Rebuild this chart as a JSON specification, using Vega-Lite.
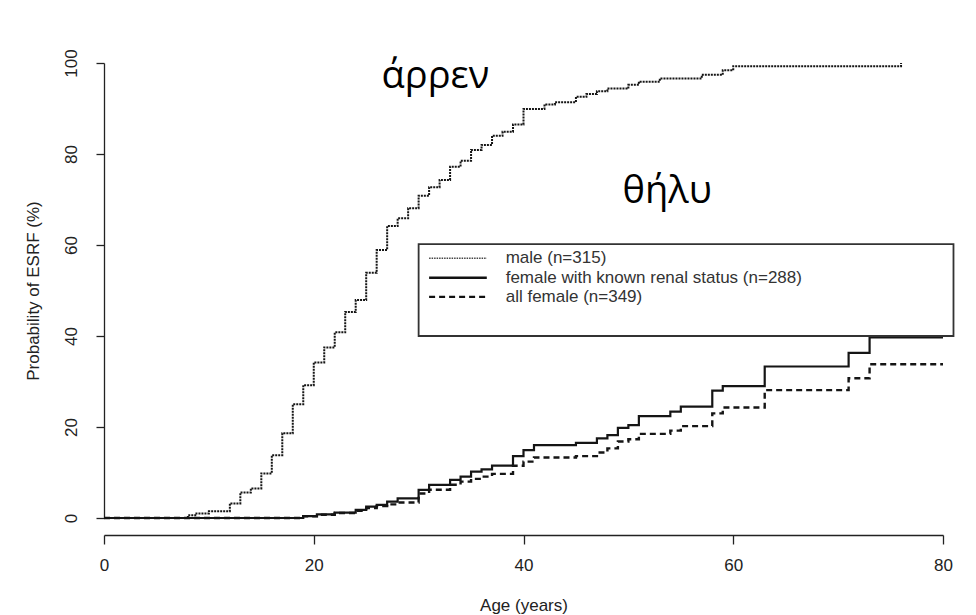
{
  "$schema": "https://vega.github.io/schema/vega-lite/v6.json",
  "width": 839,
  "height": 455,
  "autosize": {"type": "none"},
  "padding": {"left": 104, "top": 63, "right": 33, "bottom": 97},
  "background": "white",
  "config": {"view": {"stroke": null}, "font": "Liberation Sans"},
  "datasets": {
    "km": [
      {"series": "male", "age": 0, "prob": 0},
      {"series": "male", "age": 8, "prob": 0.6},
      {"series": "male", "age": 8.7, "prob": 1.0},
      {"series": "male", "age": 10, "prob": 1.5},
      {"series": "male", "age": 12, "prob": 3.2},
      {"series": "male", "age": 13, "prob": 5.6},
      {"series": "male", "age": 14, "prob": 6.5},
      {"series": "male", "age": 15, "prob": 9.8},
      {"series": "male", "age": 16, "prob": 13.8},
      {"series": "male", "age": 17, "prob": 18.6},
      {"series": "male", "age": 18, "prob": 25},
      {"series": "male", "age": 19, "prob": 29.2},
      {"series": "male", "age": 20, "prob": 34.2},
      {"series": "male", "age": 21, "prob": 37.5},
      {"series": "male", "age": 22, "prob": 40.8},
      {"series": "male", "age": 23, "prob": 45.3},
      {"series": "male", "age": 24, "prob": 47.9},
      {"series": "male", "age": 25, "prob": 53.9},
      {"series": "male", "age": 26, "prob": 58.9},
      {"series": "male", "age": 27, "prob": 64.2},
      {"series": "male", "age": 28, "prob": 65.9},
      {"series": "male", "age": 29, "prob": 68.1},
      {"series": "male", "age": 30, "prob": 70.8},
      {"series": "male", "age": 31, "prob": 72.7},
      {"series": "male", "age": 32, "prob": 74.3},
      {"series": "male", "age": 33, "prob": 77.2},
      {"series": "male", "age": 34, "prob": 78.5},
      {"series": "male", "age": 35, "prob": 80.9},
      {"series": "male", "age": 36, "prob": 82},
      {"series": "male", "age": 37, "prob": 84},
      {"series": "male", "age": 38, "prob": 84.9},
      {"series": "male", "age": 39, "prob": 86.5},
      {"series": "male", "age": 40, "prob": 89.9},
      {"series": "male", "age": 42, "prob": 90.9},
      {"series": "male", "age": 43, "prob": 91.4},
      {"series": "male", "age": 45, "prob": 92.6},
      {"series": "male", "age": 46, "prob": 93.2},
      {"series": "male", "age": 47, "prob": 93.8},
      {"series": "male", "age": 48, "prob": 94.4},
      {"series": "male", "age": 50, "prob": 95.2},
      {"series": "male", "age": 51, "prob": 95.9},
      {"series": "male", "age": 53, "prob": 96.6},
      {"series": "male", "age": 57, "prob": 97.4},
      {"series": "male", "age": 59, "prob": 98.4},
      {"series": "male", "age": 60, "prob": 99.3},
      {"series": "male", "age": 76, "prob": 100},
      {"series": "female_known", "age": 0, "prob": 0},
      {"series": "female_known", "age": 19, "prob": 0.4},
      {"series": "female_known", "age": 20.3, "prob": 0.8},
      {"series": "female_known", "age": 22, "prob": 1.2},
      {"series": "female_known", "age": 24, "prob": 1.8},
      {"series": "female_known", "age": 25, "prob": 2.5},
      {"series": "female_known", "age": 26, "prob": 2.9},
      {"series": "female_known", "age": 27, "prob": 3.6},
      {"series": "female_known", "age": 28, "prob": 4.3},
      {"series": "female_known", "age": 30, "prob": 6.2},
      {"series": "female_known", "age": 31, "prob": 7.3},
      {"series": "female_known", "age": 33, "prob": 8.4},
      {"series": "female_known", "age": 34, "prob": 9.1},
      {"series": "female_known", "age": 35, "prob": 10.2},
      {"series": "female_known", "age": 36, "prob": 10.7},
      {"series": "female_known", "age": 37, "prob": 11.5},
      {"series": "female_known", "age": 39, "prob": 13.6},
      {"series": "female_known", "age": 40, "prob": 14.9},
      {"series": "female_known", "age": 41, "prob": 16.0},
      {"series": "female_known", "age": 45, "prob": 16.5},
      {"series": "female_known", "age": 47, "prob": 17.5},
      {"series": "female_known", "age": 48, "prob": 18.2},
      {"series": "female_known", "age": 49, "prob": 19.8},
      {"series": "female_known", "age": 50, "prob": 20.4},
      {"series": "female_known", "age": 51, "prob": 22.4},
      {"series": "female_known", "age": 54, "prob": 23.4},
      {"series": "female_known", "age": 55, "prob": 24.5},
      {"series": "female_known", "age": 58, "prob": 28.0},
      {"series": "female_known", "age": 59, "prob": 29.0},
      {"series": "female_known", "age": 63, "prob": 33.3},
      {"series": "female_known", "age": 71, "prob": 36.3},
      {"series": "female_known", "age": 73, "prob": 39.7},
      {"series": "female_known", "age": 80, "prob": 39.7},
      {"series": "female_all", "age": 0, "prob": 0},
      {"series": "female_all", "age": 19, "prob": 0.4},
      {"series": "female_all", "age": 20.3, "prob": 0.7},
      {"series": "female_all", "age": 22, "prob": 1.1},
      {"series": "female_all", "age": 24, "prob": 1.6},
      {"series": "female_all", "age": 25, "prob": 2.2},
      {"series": "female_all", "age": 26, "prob": 2.6},
      {"series": "female_all", "age": 27, "prob": 3.0},
      {"series": "female_all", "age": 28, "prob": 3.4},
      {"series": "female_all", "age": 30, "prob": 5.4},
      {"series": "female_all", "age": 31, "prob": 6.2},
      {"series": "female_all", "age": 33, "prob": 7.3},
      {"series": "female_all", "age": 34, "prob": 8.0},
      {"series": "female_all", "age": 35, "prob": 8.6},
      {"series": "female_all", "age": 36, "prob": 9.1},
      {"series": "female_all", "age": 37, "prob": 9.7},
      {"series": "female_all", "age": 39, "prob": 11.5},
      {"series": "female_all", "age": 40, "prob": 12.4},
      {"series": "female_all", "age": 41, "prob": 13.3},
      {"series": "female_all", "age": 45, "prob": 13.6},
      {"series": "female_all", "age": 47, "prob": 14.4},
      {"series": "female_all", "age": 48, "prob": 15.3},
      {"series": "female_all", "age": 49, "prob": 16.8},
      {"series": "female_all", "age": 50, "prob": 17.3},
      {"series": "female_all", "age": 51, "prob": 18.5},
      {"series": "female_all", "age": 54, "prob": 19.2},
      {"series": "female_all", "age": 55, "prob": 20.2},
      {"series": "female_all", "age": 58, "prob": 23.0},
      {"series": "female_all", "age": 59, "prob": 24.3},
      {"series": "female_all", "age": 63, "prob": 28.1},
      {"series": "female_all", "age": 71, "prob": 30.7},
      {"series": "female_all", "age": 73, "prob": 33.8},
      {"series": "female_all", "age": 80, "prob": 33.8}
    ]
  },
  "layer": [
    {
      "data": {"name": "km"},
      "mark": {"type": "line", "interpolate": "step-after", "color": "#151515"},
      "encoding": {
        "x": {
          "field": "age", "type": "quantitative",
          "scale": {"domain": [0, 80], "nice": false, "zero": false},
          "axis": {
            "values": [0, 20, 40, 60, 80], "title": "Age (years)", "offset": 17,
            "grid": false, "tickSize": 9, "labelPadding": 13, "titlePadding": 24,
            "labelFontSize": 17, "titleFontSize": 17, "titleFontWeight": "normal",
            "labelColor": "#222", "titleColor": "#222", "domainColor": "#222", "tickColor": "#222",
            "domainWidth": 1.3, "tickWidth": 1.3, "labelFlush": false
          }
        },
        "y": {
          "field": "prob", "type": "quantitative",
          "scale": {"domain": [0, 100], "nice": false},
          "axis": {
            "values": [0, 20, 40, 60, 80, 100], "title": "Probability of ESRF (%)",
            "grid": false, "tickSize": 8, "labelAngle": -90, "labelAlign": "center", "labelBaseline": "bottom",
            "labelPadding": 16, "titlePadding": 20,
            "labelFontSize": 17, "titleFontSize": 17, "titleFontWeight": "normal",
            "labelColor": "#222", "titleColor": "#222", "domainColor": "#222", "tickColor": "#222",
            "domainWidth": 1.3, "tickWidth": 1.3, "labelFlush": false
          }
        },
        "strokeDash": {
          "field": "series", "type": "nominal",
          "scale": {"domain": ["male", "female_known", "female_all"], "range": [[2, 1], [1, 0], [6, 4]]},
          "legend": null
        },
        "strokeWidth": {
          "field": "series", "type": "ordinal",
          "scale": {"domain": ["male", "female_known", "female_all"], "range": [2, 2.4, 2.2]},
          "legend": null
        }
      }
    },
    {
      "data": {"values": [{"box": "legend"}]},
      "mark": {"type": "rect", "fill": "white", "stroke": "#333", "strokeWidth": 1.8},
      "encoding": {
        "x": {"datum": 30}, "x2": {"datum": 81},
        "y": {"datum": 40}, "y2": {"datum": 60.2}
      }
    },
    {
      "data": {"values": [{"entry": "male"}]},
      "mark": {"type": "rule", "color": "#444", "strokeWidth": 1.5, "strokeDash": [1.5, 1]},
      "encoding": {"x": {"datum": 31}, "x2": {"datum": 36.5}, "y": {"datum": 57.1}}
    },
    {
      "data": {"values": [{"entry": "female_known"}]},
      "mark": {"type": "rule", "color": "#111", "strokeWidth": 2.6},
      "encoding": {"x": {"datum": 31}, "x2": {"datum": 36.5}, "y": {"datum": 52.8}}
    },
    {
      "data": {"values": [{"entry": "female_all"}]},
      "mark": {"type": "rule", "color": "#111", "strokeWidth": 2.1, "strokeDash": [6, 4]},
      "encoding": {"x": {"datum": 31}, "x2": {"datum": 36.5}, "y": {"datum": 48.6}}
    },
    {
      "data": {"values": [{"entry": "male"}]},
      "mark": {"type": "text", "text": "male (n=315)", "align": "left", "baseline": "middle", "fontSize": 17, "color": "#333", "font": "Liberation Sans"},
      "encoding": {"x": {"datum": 38.3}, "y": {"datum": 57.1}}
    },
    {
      "data": {"values": [{"entry": "female_known"}]},
      "mark": {"type": "text", "text": "female with known renal status (n=288)", "align": "left", "baseline": "middle", "fontSize": 17, "color": "#333", "font": "Liberation Sans"},
      "encoding": {"x": {"datum": 38.3}, "y": {"datum": 52.8}}
    },
    {
      "data": {"values": [{"entry": "female_all"}]},
      "mark": {"type": "text", "text": "all female (n=349)", "align": "left", "baseline": "middle", "fontSize": 17, "color": "#333", "font": "Liberation Sans"},
      "encoding": {"x": {"datum": 38.3}, "y": {"datum": 48.6}}
    },
    {
      "data": {"values": [{"word": "male"}]},
      "mark": {"type": "text", "text": "άρρεν", "align": "center", "baseline": "alphabetic", "fontSize": 38, "color": "#000", "font": "Open Sans"},
      "encoding": {"x": {"datum": 31.6}, "y": {"datum": 94.5}}
    },
    {
      "data": {"values": [{"word": "female"}]},
      "mark": {"type": "text", "text": "θήλυ", "align": "center", "baseline": "alphabetic", "fontSize": 38, "color": "#000", "font": "Open Sans"},
      "encoding": {"x": {"datum": 53.7}, "y": {"datum": 69.2}}
    }
  ]
}
